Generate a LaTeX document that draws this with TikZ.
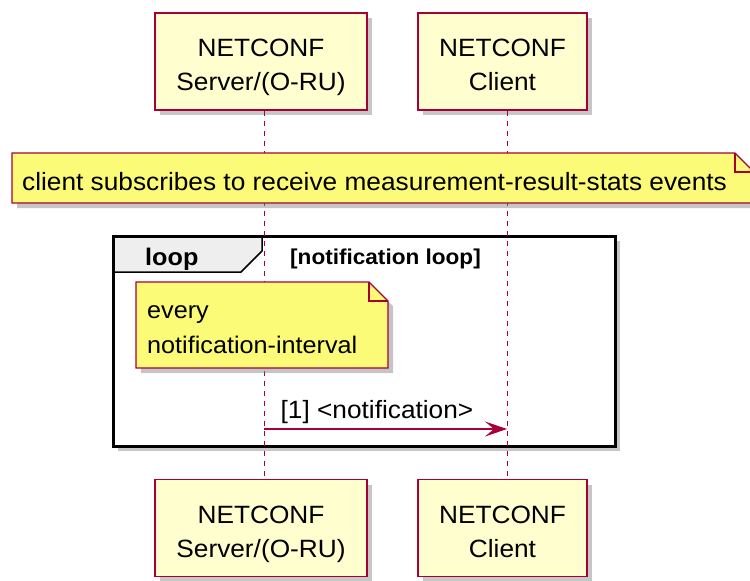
\documentclass[tikz,border=0pt]{standalone}
\usepackage{fontspec}
\setmainfont{Liberation Sans}[FakeStretch=1.05]
\usetikzlibrary{shadows,arrows.meta}

\definecolor{partfill}{HTML}{FEFECE}
\definecolor{umlred}{HTML}{A80036}
\definecolor{notefill}{HTML}{FBFB77}
\definecolor{tabfill}{HTML}{EEEEEE}

\tikzset{
  umlshadow/.style={drop shadow={shadow xshift=5pt, shadow yshift=-5pt, fill=black!50, opacity=0.45}},
  partbox/.style={draw=umlred, line width=1.5pt, fill=partfill, align=center,
    font=\fontsize{25}{34}\selectfont, text depth=0pt, text height=58pt, umlshadow},
  lifeline/.style={draw=umlred, line width=1pt, dash pattern=on 5pt off 5pt},
  notepath/.style={draw=umlred, line width=1.2pt, fill=notefill, umlshadow},
  notetext/.style={font=\fontsize{25}{35}\selectfont, inner sep=0pt, align=left},
  msg/.style={draw=umlred, line width=1.3pt, -{Stealth[length=22pt, width=15pt, inset=9pt]}},
}

\begin{document}
\begin{tikzpicture}[x=1pt, y=-1pt]
\useasboundingbox (0,0) rectangle (750,581);

% Loop frame (drawn first so the lifelines run over it)
\filldraw[fill=white, line width=3pt, umlshadow] (113,236) rectangle (615,446);
\fill[tabfill] (113,236) -- (262,236) -- (262,251) -- (241,272) -- (113,272) -- cycle;
\draw[line width=1.5pt] (262,236) -- (262,251) -- (241,272) -- (113,272);
\draw[line width=3pt] (113,236) rectangle (615,446);
\node[anchor=base west, font=\bfseries\fontsize{24}{30}\selectfont, inner sep=0pt] (looplabel) at (145,265) {loop};
\node[anchor=base west, font=\bfseries\fontsize{21.5}{26}\selectfont, inner sep=0pt] (loopcond) at (290,264) {[notification loop]};

% Participants, top and bottom
\node[partbox, minimum width=212, minimum height=97] (srvtop) at (261,61.5) {NETCONF\\Server/(O-RU)};
\node[partbox, minimum width=169, minimum height=97] (clitop) at (502.5,61.5) {NETCONF\\Client};
\node[partbox, minimum width=212, minimum height=97] (srvbot) at (261,528) {NETCONF\\Server/(O-RU)};
\node[partbox, minimum width=169, minimum height=97] (clibot) at (502.5,528) {NETCONF\\Client};

% Lifelines
\draw[lifeline] ([xshift=3pt]srvtop.south) -- ([xshift=3pt]srvbot.north);
\draw[lifeline] ([xshift=5pt]clitop.south) -- ([xshift=5pt]clibot.north);

% Note over both participants
\path[notepath] (12,153) -- (735,153) -- (754,172) -- (754,203) -- (12,203) -- cycle;
\draw[umlred, line width=1.2pt] (735,153) -- (735,172) -- (754,172);
\node[notetext, anchor=base west] (subnote) at (22,190) {client subscribes to receive measurement-result-stats events};

% Note inside the loop
\path[notepath] (136,282) -- (369,282) -- (388,301) -- (388,368) -- (136,368) -- cycle;
\draw[umlred, line width=1.2pt] (369,282) -- (369,301) -- (388,301);
\node[notetext, anchor=west, font=\fontsize{24}{35}\selectfont] (intervalnote) at (147,330) {every\\notification-interval};

% Message
\coordinate (msgfrom) at (264,429);
\coordinate (msgto) at (507,429);
\draw[msg] (msgfrom) -- (msgto)
  node[pos=0, anchor=base west, xshift=16pt, yshift=11pt, inner sep=0pt, text=black,
       font=\fontsize{25}{30}\selectfont] (msglabel) {[1] <notification>};

\end{tikzpicture}
\end{document}
